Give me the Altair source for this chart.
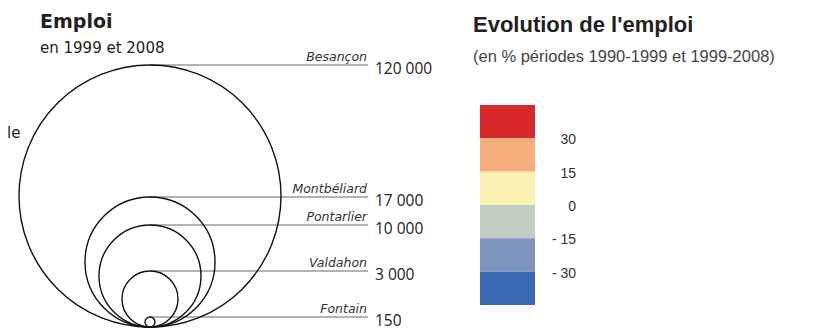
import altair as alt
import pandas as pd

# ---------------- Données ----------------
villes = ["Besançon", "Montbéliard", "Pontarlier", "Valdahon", "Fontain"]
emploi = [120000, 17000, 10000, 3000, 150]
emploi_labels = ["120 000", "17 000", "10 000", "3 000", "150"]

classes_bas = [30, 15, 0, -15, -30, -45]
classes_haut = [45, 30, 15, 0, -15, -30]
classes_noms = ["> 30", "15 à 30", "0 à 15", "-15 à 0", "-30 à -15", "< -30"]
couleurs = ["#d8282c", "#f6ae7a", "#fdf0b4", "#c3cec3", "#7f95c0", "#3c69b5"]

seuils = [30, 15, 0, -15, -30]
seuils_labels = ["30", "15", "0", "- 15", "- 30"]

# ---------------- Échelles (pixels) ----------------
dom = [150, 3000, 10000, 17000, 120000]
centre_rng = [314, 291, 268, 254, 188]
haut_rng = [309, 263, 217, 189, 57]
taille_rng = [100, 3136, 10404, 16900, 68644]

sc_centre = alt.Scale(domain=dom, range=centre_rng, nice=False, zero=False)
sc_haut = alt.Scale(domain=dom, range=haut_rng, nice=False, zero=False)
sc_taille = alt.Scale(domain=dom, range=taille_rng, nice=False, zero=False)
sc_barre = alt.Scale(domain=[-45, 45], range=[297, 97], nice=False, zero=False)

df_c = pd.DataFrame({"ville": villes, "emploi": emploi, "label": emploi_labels})
df_b = pd.DataFrame({"bas": classes_bas, "haut": classes_haut, "classe": classes_noms})
df_s = pd.DataFrame({"seuil": seuils, "label": seuils_labels})

cercles = alt.Chart(df_c).mark_point(
    shape="circle", filled=False, color="#111111", strokeWidth=1.4, opacity=1
).encode(
    x=alt.value(142),
    y=alt.Y("emploi:Q", scale=sc_centre, axis=None),
    size=alt.Size("emploi:Q", scale=sc_taille, legend=None),
)

traits = alt.Chart(df_c).mark_rule(color="#666666", strokeWidth=1).encode(
    x=alt.value(142), x2=alt.value(360),
    y=alt.Y("emploi:Q", scale=sc_haut, axis=None),
)

noms = alt.Chart(df_c).mark_text(
    align="right", baseline="bottom", dy=-1, font="DejaVu Sans",
    fontStyle="italic", fontSize=12.5, color="#333333"
).encode(
    x=alt.value(359),
    y=alt.Y("emploi:Q", scale=sc_haut, axis=None),
    text="ville:N",
)

valeurs = alt.Chart(df_c).mark_text(
    align="left", baseline="middle", dy=4, font="Open Sans",
    fontSize=15.5, color="#222222"
).encode(
    x=alt.value(367),
    y=alt.Y("emploi:Q", scale=sc_haut, axis=None),
    text="label:N",
)

barre = alt.Chart(df_b).mark_rect().encode(
    x=alt.value(472), x2=alt.value(527),
    y=alt.Y("bas:Q", scale=sc_barre, axis=None),
    y2="haut:Q",
    color=alt.Color("classe:N", scale=alt.Scale(domain=classes_noms, range=couleurs), legend=None),
)

seuils_txt = alt.Chart(df_s).mark_text(
    align="right", baseline="middle", dy=2, font="Liberation Sans",
    fontSize=14, color="#333333"
).encode(
    x=alt.value(568),
    y=alt.Y("seuil:Q", scale=sc_barre, axis=None),
    text="label:N",
)

def titre(texte, x, y, size, font, weight="normal", color="#222222"):
    return alt.Chart(pd.DataFrame({"t": [texte]})).mark_text(
        align="left", baseline="alphabetic", font=font, fontSize=size,
        fontWeight=weight, color=color
    ).encode(x=alt.value(x), y=alt.value(y), text="t:N")

t1 = titre("Emploi", 32, 20, 19, "DejaVu Sans", "bold")
t2 = titre("en 1999 et 2008", 32, 45, 15, "DejaVu Sans")
t3 = titre("Evolution de l'emploi", 465, 24, 22, "Liberation Sans", "bold")
t4 = titre("(en %     périodes 1990-1999 et 1999-2008)", 465, 54, 16.5, "Liberation Sans", color="#444444")
t5 = titre("le", -1, 130, 15, "DejaVu Sans")

chart = alt.layer(
    barre, seuils_txt, traits, cercles, noms, valeurs, t1, t2, t3, t4, t5
).resolve_scale(
    y="independent", size="independent", color="independent"
).properties(
    width=816, height=325, padding=0,
    autosize=alt.AutoSizeParams(type="none"),
    background="white",
).configure_view(stroke=None)

chart.save("out.html", embed_options={"renderer": "svg", "actions": False})
